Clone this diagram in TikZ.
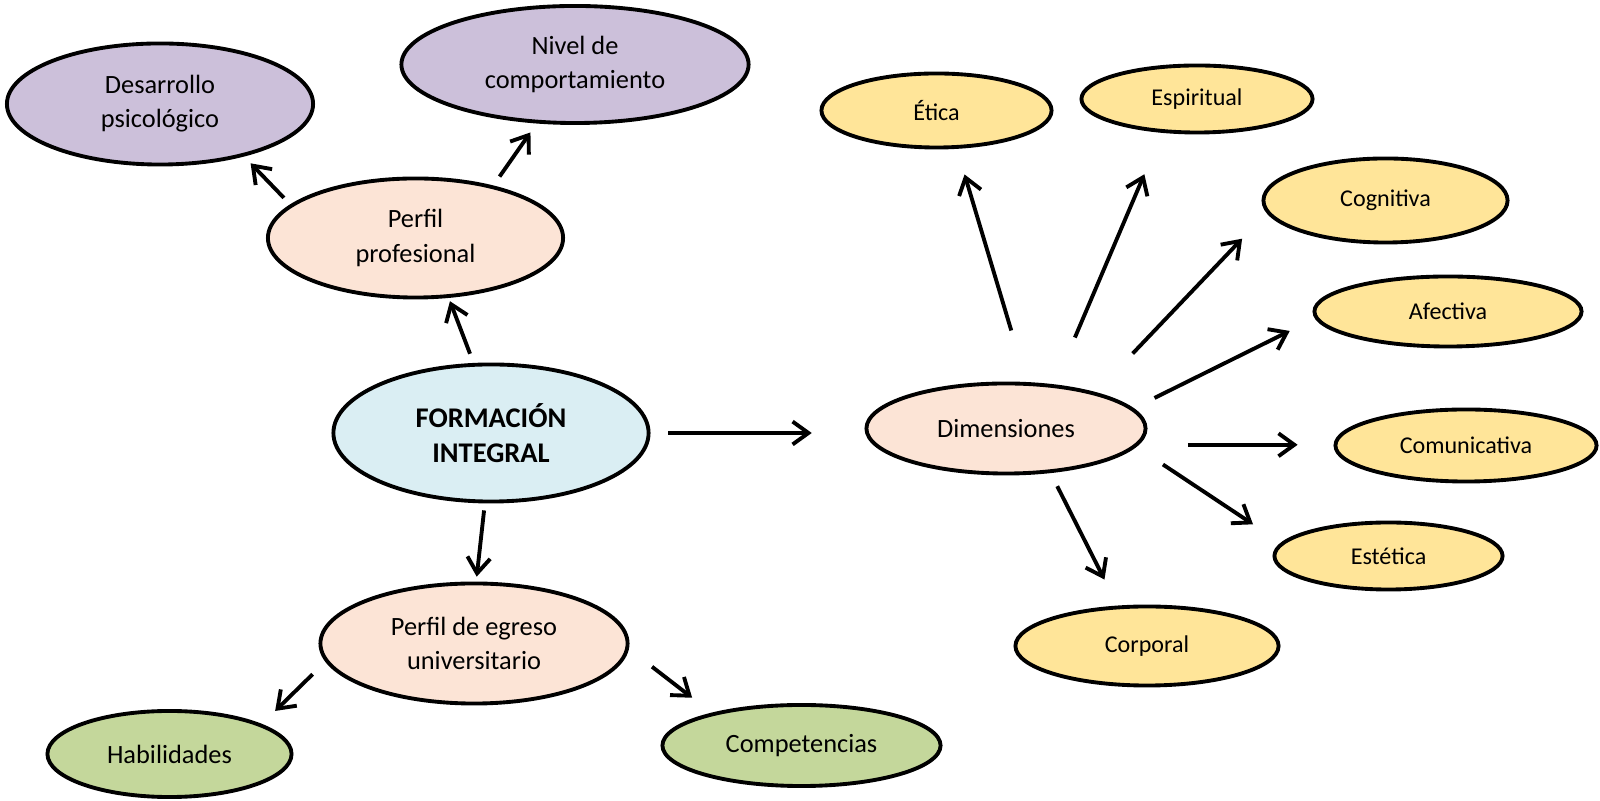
\documentclass[tikz,border=0pt]{standalone}
\usepackage{fontspec}
\setmainfont{Carlito}
\usepackage{tikz}
\usetikzlibrary{positioning,shapes,arrows.meta}
\definecolor{lavanda}{RGB}{204,192,218}
\definecolor{durazno}{RGB}{252,228,214}
\definecolor{celeste}{RGB}{218,238,243}
\definecolor{amarillo}{RGB}{255,229,153}
\definecolor{verdeclaro}{RGB}{196,215,155}
\tikzstyle{elip}=[%
      ellipse, draw=black, line width=1.1pt, inner sep=0pt, align=center,
      font=\fontsize{7.5}{9.7}\selectfont
]
\tikzstyle{nc}=[%
      elip, fill=celeste, font=\fontsize{8.1}{9.9}\selectfont\bfseries
]
\tikzstyle{pf}=[elip, fill=durazno]
\tikzstyle{mo}=[elip, fill=lavanda]
\tikzstyle{hb}=[elip, fill=verdeclaro]
\tikzstyle{di}=[%
      elip, fill=amarillo, font=\fontsize{6.85}{8.5}\selectfont
]

\begin{document}
\begin{tikzpicture}[x=0.01cm, y=-0.01cm,
    line width=1.1pt,
    -{Straight Barb[length=4.5pt,width=6.5pt]}
  ]
    \useasboundingbox (0,0) rectangle (1600,801);

    % centro
    \node[nc] (fi)   at (491,433)    [minimum width=3.15cm, minimum height=1.37cm] {FORMACIÓN\\INTEGRAL};

    % perfil profesional
    \node[pf] (pp)   at (415.5,238)  [minimum width=2.95cm, minimum height=1.19cm] {Perfil\\profesional};
    \node[mo] (des)  at (160,104)    [minimum width=3.06cm, minimum height=1.21cm] {Desarrollo\\psicológico};
    \node[mo] (niv)  at (575,64.5)   [minimum width=3.47cm, minimum height=1.17cm] {Nivel de\\comportamiento};

    % perfil de egreso
    \node[pf] (pe)   at (474,643.5)  [minimum width=3.07cm, minimum height=1.2cm] {Perfil de egreso\\universitario};
    \node[hb] (hab)  at (169.5,754)  [minimum width=2.44cm, minimum height=0.86cm] {Habilidades};
    \node[hb] (comp) at (801.5,745.5) [minimum width=2.78cm, minimum height=0.81cm] {Competencias};

    % dimensiones
    \node[pf] (dim)  at (1006,428.5) [minimum width=2.79cm, minimum height=0.9cm] {Dimensiones};
    \node[di] (eti)  at (936.5,110.5) [minimum width=2.3cm, minimum height=0.74cm] {Ética};
    \node[di] (esp)  at (1197,99)    [minimum width=2.31cm, minimum height=0.67cm] {Espiritual};
    \node[di] (cog)  at (1385.5,200.5) [minimum width=2.44cm, minimum height=0.84cm] {Cognitiva};
    \node[di] (afe)  at (1448,311.5) [minimum width=2.67cm, minimum height=0.7cm] {Afectiva};
    \node[di] (com)  at (1466,445.5) [minimum width=2.61cm, minimum height=0.72cm] {Comunicativa};
    \node[di] (est)  at (1388.5,556) [minimum width=2.28cm, minimum height=0.67cm] {Estética};
    \node[di] (cor)  at (1147,646)   [minimum width=2.63cm, minimum height=0.79cm] {Corporal};

    % flechas
    \draw[shorten <=2.8pt, shorten >=1pt]   (fi.104)  -- (pp.-61);
    \draw[shorten <=2.6pt, shorten >=2.7pt] (pp.165)  -- (des.-32);
    \draw[shorten <=3.1pt, shorten >=3.1pt] (pp.34)   -- (niv.-123);
    \draw[shorten <=5pt, shorten >=15pt]    (fi.east) -- (fi.east -| dim.west);
    \draw[shorten <=2pt, shorten >=1.4pt]   (fi.-95)  -- (pe.88);
    \draw[shorten <=5.1pt, shorten >=5.3pt] (pe.-173) -- (hab.18);
    \draw[shorten <=8.3pt, shorten >=7pt]   (pe.-2)   -- (comp.160);

    \draw[shorten <=15.3pt, shorten >=7.6pt] (dim.66)  -- (eti.-62);
    \draw[shorten <=14.5pt, shorten >=12.8pt] (dim.42) -- (esp.-136);
    \draw[shorten <=15.2pt, shorten >=10.1pt] (dim.22) -- (cog.-174);
    \draw[shorten <=6.6pt, shorten >=8pt]    (dim.9)   -- (afe.-177);
    \draw[shorten <=14pt, shorten >=10.2pt]  (dim.353) -- (dim.353 -| com.west);
    \draw[shorten <=9.1pt, shorten >=9.5pt]  (dim.-8)  -- (est.173);
    \draw[shorten <=4.2pt, shorten >=8.3pt]  (dim.-45) -- (cor.126);
\end{tikzpicture}
\end{document}
